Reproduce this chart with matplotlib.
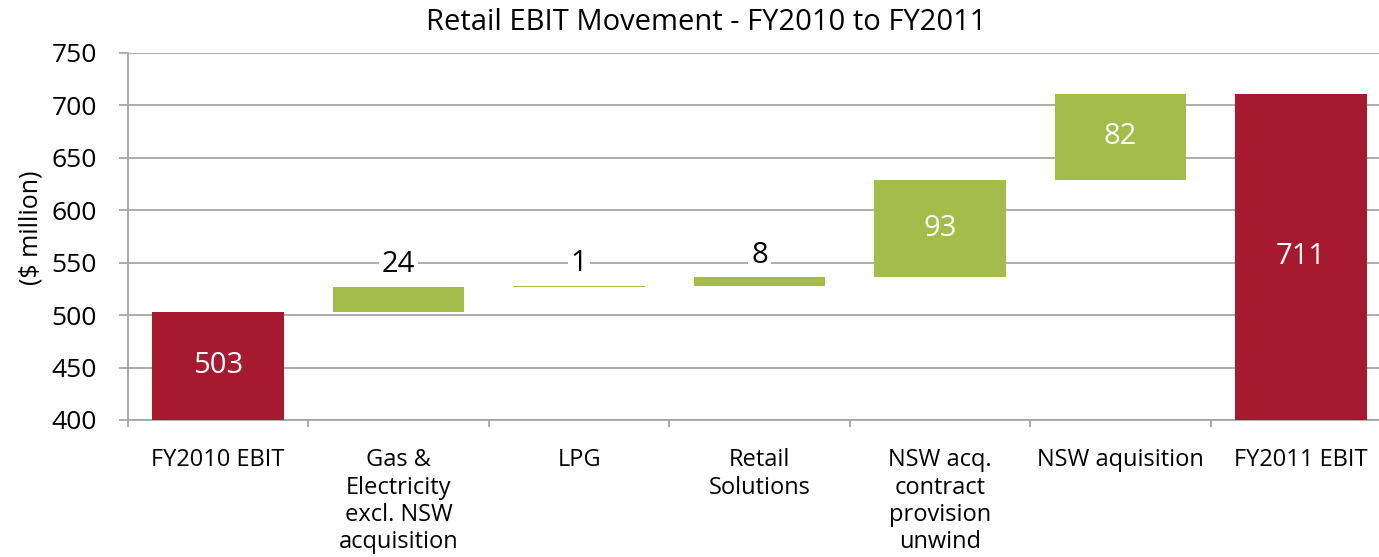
import numpy as np
import matplotlib.pyplot as plt

plt.rcParams['font.family'] = ['Open Sans', 'DejaVu Sans']

categories = ['FY2010 EBIT', 'Gas &\nElectricity\nexcl. NSW\nacquisition', 'LPG',
              'Retail\nSolutions', 'NSW acq.\ncontract\nprovision\nunwind',
              'NSW aquisition', 'FY2011 EBIT']
values = [503, 24, 1, 8, 93, 82, 711]
is_total = [True, False, False, False, False, False, True]

red = '#A6192E'
green = '#A3BC4A'
grey = '#A6A6A6'

ymin, ymax = 400, 750

# waterfall bottoms
bottoms = []
run = 0
for v, tot in zip(values, is_total):
    if tot:
        bottoms.append(ymin)
        run = v
    else:
        bottoms.append(run)
        run += v
heights = [v - ymin if tot else v for v, tot in zip(values, is_total)]

fig = plt.figure(figsize=(13.79, 5.57), dpi=100)
ax = fig.add_axes([128 / 1379, 1 - 420 / 557, 1263 / 1379, 367 / 557])

x = np.arange(len(categories))
colors = [red if t else green for t in is_total]
ax.bar(x, heights, bottom=bottoms, width=0.73, color=colors, zorder=3)

for xi, v, b, h, tot in zip(x, values, bottoms, heights, is_total):
    if h >= 40:
        ax.text(xi, b + h / 2, str(v), ha='center', va='center',
                color='white', fontsize=21, zorder=4)
    else:
        ax.text(xi, b + h + 21, str(v), ha='center', va='center',
                color='black', fontsize=21, zorder=4,
                bbox=dict(facecolor='white', edgecolor='none', pad=2))

ax.set_xlim(-0.5, len(categories) - 0.5)
ax.set_ylim(ymin, ymax)
ax.set_yticks(np.arange(400, 751, 50))
ax.yaxis.grid(True, color=grey, linewidth=1.3, zorder=0)
ax.set_axisbelow(True)

ax.set_xticks(x)
ax.set_xticklabels(categories, fontsize=17, linespacing=1.17, va='top')
ax.set_xticks(np.arange(len(categories) + 1) - 0.5, minor=True)
ax.tick_params(axis='x', which='major', length=0, pad=20.5)
ax.tick_params(axis='x', which='minor', length=5, color=grey, width=1.3)
ax.tick_params(axis='y', length=6.5, color=grey, width=1.3, labelsize=19, pad=16)

for s in ['top', 'right']:
    ax.spines[s].set_visible(False)
ax.spines['left'].set_color(grey)
ax.spines['left'].set_linewidth(1.3)
ax.spines['bottom'].set_color(grey)
ax.spines['bottom'].set_linewidth(1.3)

ax.set_ylabel('($ million)', fontsize=18)
ax.yaxis.set_label_coords(-(128 - 44) / 1263, (420 - 228) / 367)
fig.text(706 / 1379, 1 - 22 / 557, 'Retail EBIT Movement - FY2010 to FY2011',
         ha='center', va='center', fontsize=21)

plt.savefig('out.png', dpi=100)
